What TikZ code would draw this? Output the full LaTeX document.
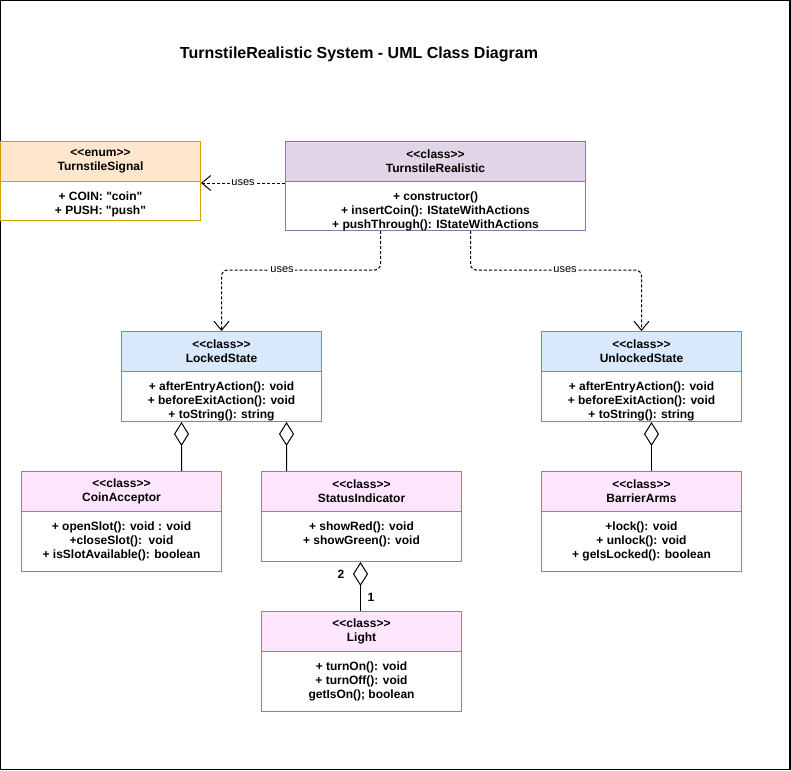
\documentclass[tikz,border=0pt]{standalone}
\usetikzlibrary{arrows.meta,calc}
\definecolor{orfill}{HTML}{FFE6CC}
\definecolor{orline}{HTML}{D79B00}
\definecolor{pufill}{HTML}{E1D5E7}
\definecolor{puline}{HTML}{9673A6}
\definecolor{blfill}{HTML}{DAE8FC}
\definecolor{blline}{HTML}{6C8EBF}
\definecolor{pkfill}{HTML}{FFE6FF}
\font\bxf="Liberation Sans/B" at 12bp
\font\ttlf="Liberation Sans/B" at 16bp
\font\lbf="Liberation Sans" at 11bp
\newcommand\bxs{\bxf\baselineskip=14bp\relax}
\newcommand\guil[1]{<\kern0pt<#1>\kern0pt>}
\begin{document}
\begin{tikzpicture}[x=1bp,y=-1bp,
  boxfont/.style={font=\bxs},
  hdr/.style={draw, line width=1bp, anchor=north west, inner sep=0pt,
    minimum width=#1, minimum height=40bp, align=center, boxfont},
  bdy/.style={draw, line width=1bp, anchor=north west, inner sep=0pt,
    fill=white, minimum width=200bp},
  btxt/.style={anchor=north, inner sep=0pt, yshift=-11bp, align=center, boxfont},
  uses/.style={densely dashed, line width=1bp,
    -{Straight Barb[length=9bp,width=15bp,line width=1bp]}},
  agg/.style={line width=1bp,
    {Diamond[open,length=24bp,width=15bp,line width=1bp]}-},
  lbl/.style={fill=white, inner sep=1bp, font=\lbf},
  mult/.style={inner sep=0pt, boxfont},
  label distance=0pt]
\useasboundingbox (0,0) rectangle (791,771);
\fill[white] (0,0) rectangle (791,771);
\draw[line width=1.5bp] (0.75,0.75) rectangle (790,769.5);

\node[font=\ttlf] (title) at (359,54)
  {TurnstileRealistic System - UML Class Diagram};

% TurnstileSignal
\node[hdr=200bp, fill=orfill, draw=orline] (sigh) at (0,141)
  {\guil{enum}\\TurnstileSignal};
\node[bdy, draw=orline, minimum height=39bp,
  label={[btxt]north:{+ COIN: "coin"\\+ PUSH: "push"}}] (sigb) at (0,181) {};

% TurnstileRealistic
\node[hdr=300bp, fill=pufill, draw=puline] (trh) at (285,141)
  {\guil{class}\\TurnstileRealistic};
\node[bdy, draw=puline, minimum width=300bp, minimum height=49bp,
  label={[btxt]north:{+ constructor()\\+ insertCoin(): IStateWithActions\\+ pushThrough(): IStateWithActions}}]
  (trb) at (285,181) {};

% LockedState
\node[hdr=200bp, fill=blfill, draw=blline] (lsh) at (121,331)
  {\guil{class}\\LockedState};
\node[bdy, draw=blline, minimum height=50bp,
  label={[btxt]north:{+ afterEntryAction(): void\\+ beforeExitAction(): void\\+ toString(): string}}]
  (lsb) at (121,371) {};

% UnlockedState
\node[hdr=200bp, fill=blfill, draw=blline] (ush) at (541,331)
  {\guil{class}\\UnlockedState};
\node[bdy, draw=blline, minimum height=50bp,
  label={[btxt]north:{+ afterEntryAction(): void\\+ beforeExitAction(): void\\+ toString(): string}}]
  (usb) at (541,371) {};

% CoinAcceptor
\node[hdr=200bp, fill=pkfill, draw=blline] (cah) at (21,471)
  {\guil{class}\\CoinAcceptor};
\node[bdy, draw=blline, minimum height=60bp,
  label={[btxt]north:{+ openSlot(): void : void\\+closeSlot():\ \ void\\+ isSlotAvailable(): boolean}}]
  (cab) at (21,511) {};

% StatusIndicator
\node[hdr=200bp, fill=pkfill, draw=blline] (sih) at (261,471)
  {\guil{class}\\StatusIndicator};
\node[bdy, draw=blline, minimum height=50bp,
  label={[btxt]north:{+ showRed(): void\\+ showGreen(): void}}]
  (sib) at (261,511) {};

% BarrierArms
\node[hdr=200bp, fill=pkfill, draw=blline] (bah) at (541,471)
  {\guil{class}\\BarrierArms};
\node[bdy, draw=blline, minimum height=60bp,
  label={[btxt]north:{+lock(): void\\+ unlock(): void\\+ geIsLocked(): boolean}}]
  (bab) at (541,511) {};

% Light
\node[hdr=200bp, fill=pkfill, draw=blline] (lih) at (261,611)
  {\guil{class}\\Light};
\node[bdy, draw=blline, minimum height=60bp,
  label={[btxt]north:{+ turnOn(): void\\+ turnOff(): void\\getIsOn(); boolean}}]
  (lib) at (261,651) {};

% uses connectors
\draw[uses] ([yshift=-2bp]trb.north west) -- node[lbl] {uses} ([yshift=-2bp]sigb.north east);
\coordinate (u1) at (282,270);
\coordinate (u2) at (565,270);
\draw[uses, rounded corners=6bp] ([xshift=-55bp]trb.south) |- (u1) -| (lsh.north);
\draw[uses, rounded corners=6bp] ([xshift=35bp]trb.south) |- (u2) -| (ush.north);
\node[lbl] (lu1) at (u1) {uses};
\node[lbl] (lu2) at (u2) {uses};

% aggregations
\draw[agg] ([xshift=-40bp]lsb.south) -- ([xshift=60bp]cah.north);
\draw[agg] ([xshift=65bp]lsb.south) -- ([xshift=-75bp]sih.north);
\draw[agg] ([xshift=10bp]usb.south) -- ([xshift=10bp]bah.north);
\draw[agg] ([xshift=-1bp]sib.south) -- ([xshift=-1bp]lih.north);
\node[mult] (m2) at (341,574) {2};
\node[mult] (m1) at (371,597) {1};
\end{tikzpicture}
\end{document}
